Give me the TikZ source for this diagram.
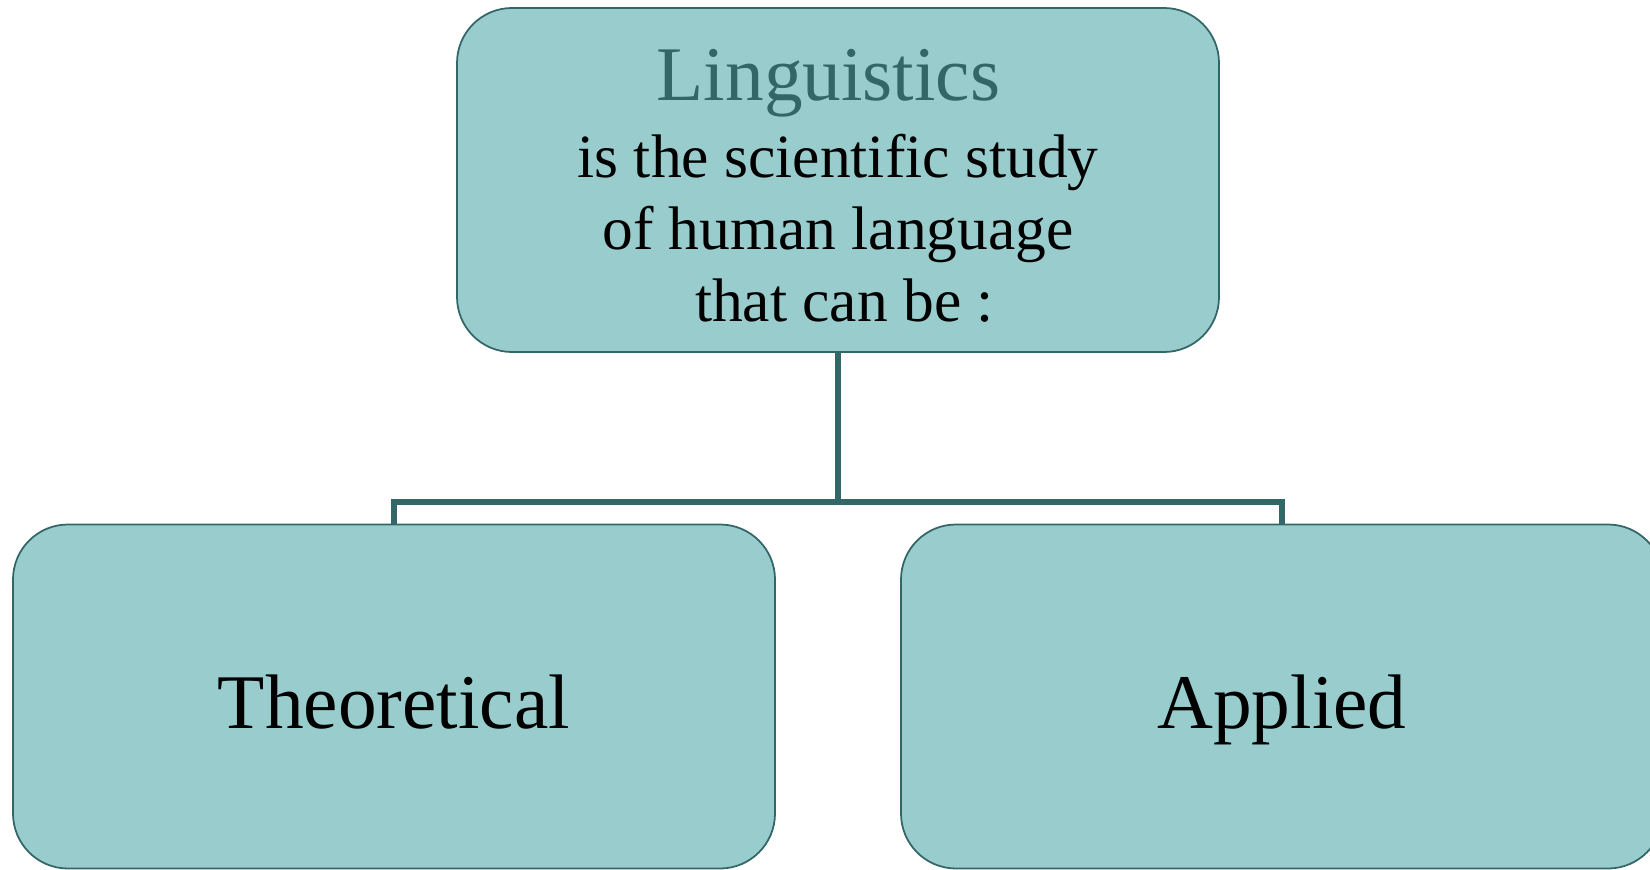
\documentclass[tikz,border=0pt]{standalone}
\usepackage{fontspec}
\setmainfont{Liberation Serif}
\definecolor{boxfill}{HTML}{99CCCC}
\definecolor{boxline}{HTML}{336666}
\tikzset{
  bloc/.style={draw=boxline, fill=boxfill, line width=1pt,
    rounded corners=1.1cm, minimum width=15.24cm, minimum height=6.88cm,
    align=center, inner sep=0pt},
  mot/.style={font=\fontsize{44}{44}\selectfont, text height=1.26cm, text depth=0cm},
  lien/.style={draw=boxline, line width=3.2pt}
}

\begin{document}
\begin{tikzpicture}
\useasboundingbox (0,0) rectangle (33,-17.38);
\node[bloc, font=\fontsize{35}{41}\selectfont] (ling) at (16.76,-3.6)
  {\rule{0pt}{36pt}{\fontsize{44}{44}\selectfont\color{boxline}Linguistics}\hspace*{0.38cm}\\[3pt]
   is the scientific study\hspace*{0.3cm}\\ of human language\\ \hspace*{0.26cm}that can be :};
\node[bloc, mot] (theo) at (7.88,-13.93) {Theoretical};
\node[bloc, mot] (appl) at (25.64,-13.93) {Applied};
% branches
\coordinate (fork) at (16.76,-10.04);
\draw[lien] (ling.south) -- (fork);
\draw[lien] (theo.north) |- (fork) -| (appl.north);
\end{tikzpicture}
\end{document}
